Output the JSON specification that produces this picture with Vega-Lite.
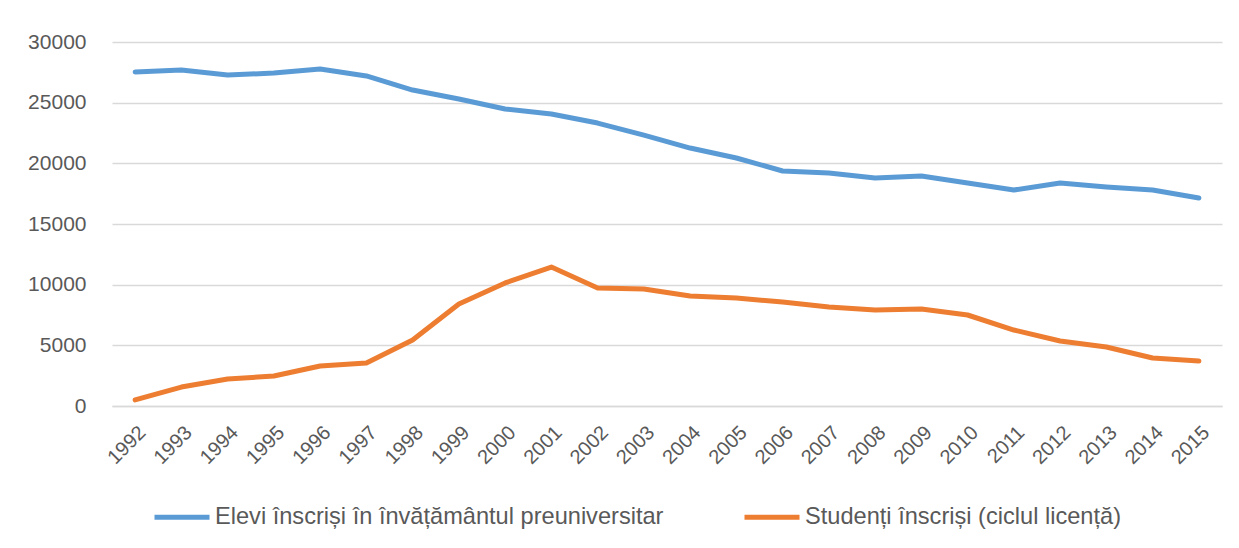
{
  "$schema": "https://vega.github.io/schema/vega-lite/v6.json",
  "width": 1110,
  "height": 364,
  "autosize": {"type": "none"},
  "padding": {"left": 112, "top": 42, "right": 17, "bottom": 142},
  "background": "white",
  "data": {
    "values": [
      {"an": "1992", "serie": "Elevi înscriși în învățământul preuniversitar", "valoare": 27530},
      {"an": "1993", "serie": "Elevi înscriși în învățământul preuniversitar", "valoare": 27690},
      {"an": "1994", "serie": "Elevi înscriși în învățământul preuniversitar", "valoare": 27280},
      {"an": "1995", "serie": "Elevi înscriși în învățământul preuniversitar", "valoare": 27440},
      {"an": "1996", "serie": "Elevi înscriși în învățământul preuniversitar", "valoare": 27770},
      {"an": "1997", "serie": "Elevi înscriși în învățământul preuniversitar", "valoare": 27200},
      {"an": "1998", "serie": "Elevi înscriși în învățământul preuniversitar", "valoare": 26040},
      {"an": "1999", "serie": "Elevi înscriși în învățământul preuniversitar", "valoare": 25300},
      {"an": "2000", "serie": "Elevi înscriși în învățământul preuniversitar", "valoare": 24480},
      {"an": "2001", "serie": "Elevi înscriși în învățământul preuniversitar", "valoare": 24070},
      {"an": "2002", "serie": "Elevi înscriși în învățământul preuniversitar", "valoare": 23320},
      {"an": "2003", "serie": "Elevi înscriși în învățământul preuniversitar", "valoare": 22330},
      {"an": "2004", "serie": "Elevi înscriși în învățământul preuniversitar", "valoare": 21260},
      {"an": "2005", "serie": "Elevi înscriși în învățământul preuniversitar", "valoare": 20440},
      {"an": "2006", "serie": "Elevi înscriși în învățământul preuniversitar", "valoare": 19370},
      {"an": "2007", "serie": "Elevi înscriși în învățământul preuniversitar", "valoare": 19200},
      {"an": "2008", "serie": "Elevi înscriși în învățământul preuniversitar", "valoare": 18790},
      {"an": "2009", "serie": "Elevi înscriși în învățământul preuniversitar", "valoare": 18950},
      {"an": "2010", "serie": "Elevi înscriși în învățământul preuniversitar", "valoare": 18380},
      {"an": "2011", "serie": "Elevi înscriși în învățământul preuniversitar", "valoare": 17800},
      {"an": "2012", "serie": "Elevi înscriși în învățământul preuniversitar", "valoare": 18380},
      {"an": "2013", "serie": "Elevi înscriși în învățământul preuniversitar", "valoare": 18050},
      {"an": "2014", "serie": "Elevi înscriși în învățământul preuniversitar", "valoare": 17800},
      {"an": "2015", "serie": "Elevi înscriși în învățământul preuniversitar", "valoare": 17140},
      {"an": "1992", "serie": "Studenți înscriși (ciclul licență)", "valoare": 500},
      {"an": "1993", "serie": "Studenți înscriși (ciclul licență)", "valoare": 1560},
      {"an": "1994", "serie": "Studenți înscriși (ciclul licență)", "valoare": 2220},
      {"an": "1995", "serie": "Studenți înscriși (ciclul licență)", "valoare": 2470},
      {"an": "1996", "serie": "Studenți înscriși (ciclul licență)", "valoare": 3300},
      {"an": "1997", "serie": "Studenți înscriși (ciclul licență)", "valoare": 3540},
      {"an": "1998", "serie": "Studenți înscriși (ciclul licență)", "valoare": 5440},
      {"an": "1999", "serie": "Studenți înscriși (ciclul licență)", "valoare": 8400},
      {"an": "2000", "serie": "Studenți înscriși (ciclul licență)", "valoare": 10140},
      {"an": "2001", "serie": "Studenți înscriși (ciclul licență)", "valoare": 11450},
      {"an": "2002", "serie": "Studenți înscriși (ciclul licență)", "valoare": 9730},
      {"an": "2003", "serie": "Studenți înscriși (ciclul licență)", "valoare": 9650},
      {"an": "2004", "serie": "Studenți înscriși (ciclul licență)", "valoare": 9070},
      {"an": "2005", "serie": "Studenți înscriși (ciclul licență)", "valoare": 8900},
      {"an": "2006", "serie": "Studenți înscriși (ciclul licență)", "valoare": 8570},
      {"an": "2007", "serie": "Studenți înscriși (ciclul licență)", "valoare": 8160},
      {"an": "2008", "serie": "Studenți înscriși (ciclul licență)", "valoare": 7910},
      {"an": "2009", "serie": "Studenți înscriși (ciclul licență)", "valoare": 7990},
      {"an": "2010", "serie": "Studenți înscriși (ciclul licență)", "valoare": 7500},
      {"an": "2011", "serie": "Studenți înscriși (ciclul licență)", "valoare": 6260},
      {"an": "2012", "serie": "Studenți înscriși (ciclul licență)", "valoare": 5360},
      {"an": "2013", "serie": "Studenți înscriși (ciclul licență)", "valoare": 4860},
      {"an": "2014", "serie": "Studenți înscriși (ciclul licență)", "valoare": 3960},
      {"an": "2015", "serie": "Studenți înscriși (ciclul licență)", "valoare": 3710}
    ]
  },
  "mark": {"type": "line", "strokeWidth": 5, "strokeCap": "round", "strokeJoin": "round"},
  "encoding": {
    "x": {
      "field": "an",
      "type": "ordinal",
      "scale": {"type": "point", "padding": 0.5},
      "axis": {
        "title": null,
        "labelAngle": -45,
        "labelFont": "Liberation Sans",
        "labelFontSize": 20,
        "labelColor": "#595959",
        "labelPadding": 16,
        "ticks": false,
        "grid": false,
        "domain": true,
        "domainColor": "#d9d9d9",
        "domainWidth": 1.5
      }
    },
    "y": {
      "field": "valoare",
      "type": "quantitative",
      "scale": {"domain": [0, 30000], "nice": false},
      "axis": {
        "title": null,
        "values": [0, 5000, 10000, 15000, 20000, 25000, 30000],
        "format": "d",
        "labelFont": "Liberation Sans",
        "labelFontSize": 21,
        "labelColor": "#595959",
        "labelPadding": 26,
        "ticks": false,
        "domain": false,
        "grid": true,
        "gridColor": "#d9d9d9",
        "gridWidth": 1.5
      }
    },
    "color": {
      "field": "serie",
      "type": "nominal",
      "scale": {
        "domain": ["Elevi înscriși în învățământul preuniversitar", "Studenți înscriși (ciclul licență)"],
        "range": ["#5B9BD5", "#ED7D31"]
      },
      "legend": {
        "title": null,
        "orient": "none",
        "direction": "horizontal",
        "legendX": 40,
        "legendY": 445,
        "symbolType": "stroke",
        "symbolSize": 3025,
        "symbolStrokeWidth": 5,
        "labelFont": "Liberation Sans",
        "labelFontSize": 23.6,
        "labelColor": "#595959",
        "labelOffset": 3,
        "labelLimit": 700,
        "columnPadding": 70
      }
    }
  },
  "config": {"view": {"stroke": null}}
}
